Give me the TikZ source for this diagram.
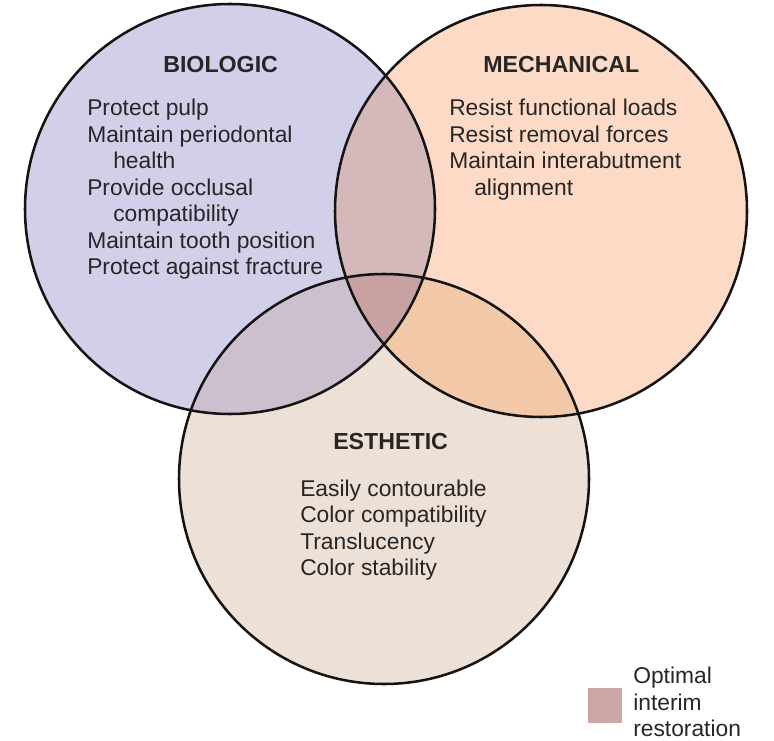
\documentclass[tikz,border=0pt]{standalone}
\usepackage{fontspec}
\setmainfont{Liberation Sans}
\definecolor{cB}{HTML}{D2CFE9}
\definecolor{cM}{HTML}{FDDAC6}
\definecolor{cE}{HTML}{EDE0D6}
\definecolor{cBM}{HTML}{D4B8BA}
\definecolor{cBE}{HTML}{CCC0CE}
\definecolor{cME}{HTML}{F3C8A8}
\definecolor{cBME}{HTML}{C8A2A3}
\definecolor{cLeg}{HTML}{CDA5A6}
\definecolor{txt}{HTML}{262626}
\tikzset{
  ring/.style={draw=black!92, line width=1.9pt},
  itemtext/.style={anchor=base west, inner sep=0pt, text=txt, font=\fontsize{17.1}{20}\selectfont},
  headtext/.style={anchor=base west, inner sep=0pt, text=txt, font=\fontsize{17.4}{20}\selectfont\bfseries},
}
\begin{document}
\begin{tikzpicture}[x=0.75pt,y=-0.75pt]
\useasboundingbox (0,0) rectangle (774,741);
\fill[white] (0,0) rectangle (774,741);
\coordinate (cb) at (230,209);
\coordinate (cm) at (541,211);
\coordinate (ce) at (384,479);
% base fills
\fill[cB] (cb) circle [radius=205];
\fill[cM] (cm) circle [radius=206];
\fill[cE] (ce) circle [radius=205];
% pairwise overlaps
\begin{scope}
  \clip (cb) circle [radius=205];
  \fill[cBM] (cm) circle [radius=206];
  \fill[cBE] (ce) circle [radius=205];
\end{scope}
\begin{scope}
  \clip (cm) circle [radius=206];
  \fill[cME] (ce) circle [radius=205];
\end{scope}
\begin{scope}
  \clip (cb) circle [radius=205];
  \clip (cm) circle [radius=206];
  \fill[cBME] (ce) circle [radius=205];
\end{scope}
% outlines
\node[ring, circle, minimum size=410*0.75pt, inner sep=0pt] (bio) at (cb) {};
\node[ring, circle, minimum size=412*0.75pt, inner sep=0pt] (mech) at (cm) {};
\node[ring, circle, minimum size=410*0.75pt, inner sep=0pt] (esth) at (ce) {};
% BIOLOGIC
\node[headtext] (bh) at (163,73) {BIOLOGIC};
\node[itemtext] (b1) at (87,116) {Protect pulp};
\node[itemtext] (b2) at (87,142.5) {Maintain periodontal};
\node[itemtext] (b3) at (113,169) {health};
\node[itemtext] (b4) at (87,195.5) {Provide occlusal};
\node[itemtext] (b5) at (113,222) {compatibility};
\node[itemtext] (b6) at (87,248.5) {Maintain tooth position};
\node[itemtext] (b7) at (87,275) {Protect against fracture};
% MECHANICAL
\node[headtext] (mh) at (483,73) {MECHANICAL};
\node[itemtext] (m1) at (449,116) {Resist functional loads};
\node[itemtext] (m2) at (449,142.5) {Resist removal forces};
\node[itemtext] (m3) at (449,169) {Maintain interabutment};
\node[itemtext] (m4) at (474,195.5) {alignment};
% ESTHETIC
\node[headtext] (eh) at (333,449) {ESTHETIC};
\node[itemtext] (e1) at (300,496) {Easily contourable};
\node[itemtext] (e2) at (300,522.5) {Color compatibility};
\node[itemtext] (e3) at (300,549) {Translucency};
\node[itemtext] (e4) at (300,575.5) {Color stability};
% legend
\fill[cLeg] (588,688) rectangle (622,723);
\node[itemtext] (l1) at (633,683.5) {Optimal};
\node[itemtext] (l2) at (633,710) {interim};
\node[itemtext] (l3) at (633,736.5) {restoration};
\end{tikzpicture}
\end{document}
